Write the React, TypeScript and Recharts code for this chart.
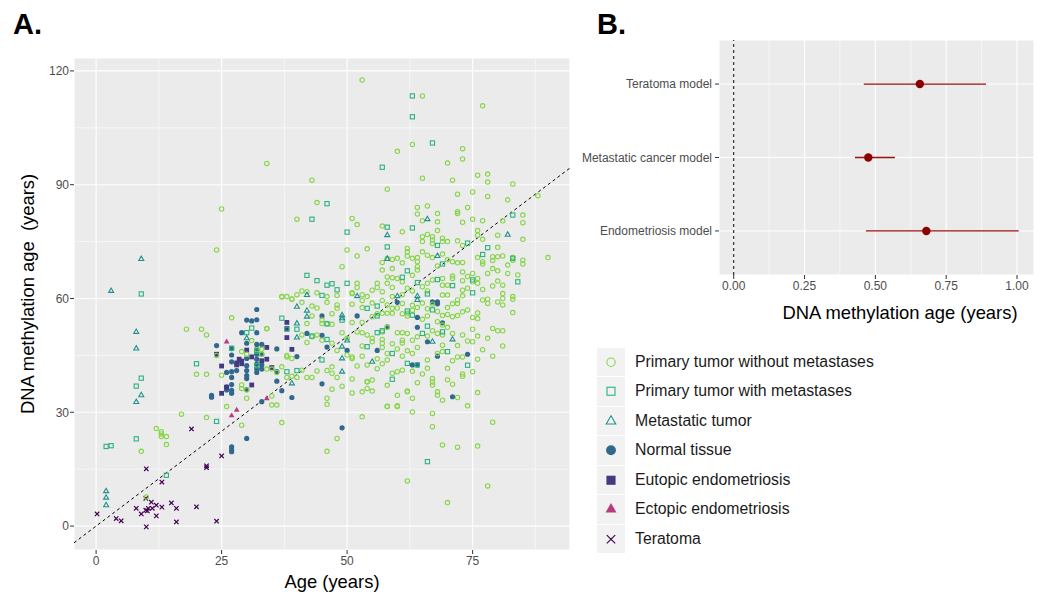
import React from "react";
import {
  ScatterChart,
  Scatter,
  XAxis,
  YAxis,
  CartesianGrid,
  ReferenceLine,
  ErrorBar,
} from "recharts";

const FONT = '"Liberation Sans", Arial, Helvetica, sans-serif';

// ---- panel A: [chronological age, DNA methylation age] ----
const primaryNoMet: [number, number][] = [
  [53, 117.6], [65, 113.4], [77, 110.8], [60, 98.8], [63, 100.6], [73, 99.5], [73, 96.8], [70, 95.7],
  [34, 95.6], [43, 91.2], [58, 88.8], [65, 91.7], [71, 91.2], [76, 92.5], [78, 92.8], [78, 90.7],
  [78, 86.9], [72, 87.5], [75, 88.1], [82, 86], [83, 90.2], [88, 87.1], [44, 85.3], [25, 83.6],
  [40, 80.9], [51, 81.1], [52, 79.5], [64, 84], [64, 82.3], [66, 84.4], [68, 82.4], [68, 80.2],
  [68, 77.9], [65, 80.5], [72, 82.9], [72, 82.4], [74, 84], [73, 80.1], [75, 80.9], [77, 80.5],
  [81, 80.5], [85, 82], [85, 80], [85, 75.6], [57, 79.1], [61, 77.6], [24, 72.8], [50, 72.8],
  [52, 71.2], [54, 73.1], [57, 69.5], [59, 70.3], [59, 67.9], [49, 68.4], [62, 73.2], [62, 72.3],
  [62, 71.2], [64, 70.8], [64, 69.7], [64, 68.4], [64, 67.5], [65, 76.3], [65, 75], [65, 72.3],
  [66, 76.9], [66, 71.4], [67, 76.3], [67, 75.4], [67, 74.5], [67, 70.8], [69, 75.9], [69, 75],
  [70, 75], [72, 75.2], [73, 74], [76, 77.9], [76, 76.7], [77, 75.6], [80, 76.7], [80, 73.5],
  [69, 71.7], [71, 69.7], [72, 69.4], [73, 69.5], [76, 70.8], [77, 69.7], [77, 69.1], [79, 71],
  [79, 70], [80, 71], [81, 71.2], [83, 70.8], [83, 70.1], [85, 70.1], [85, 69.1], [90, 70.8],
  [79, 67.9], [82, 68.8], [82, 66.6], [73, 67], [63, 70.6], [60, 70.6], [58, 70.6], [57, 67.5],
  [58, 65.7], [59, 65.5], [60, 65.3], [61, 64.4], [62, 62.7], [59, 62.9], [58, 64], [56, 64],
  [56, 62.9], [55, 62.2], [52, 64], [52, 62.9], [51, 61.5], [66, 64], [66, 62], [67, 64.9],
  [65, 63.1], [69, 65.3], [69, 63.5], [71, 65.9], [71, 65.3], [73, 64.7], [75, 66.6], [75, 64.4],
  [76, 65.3], [76, 64], [77, 62.4], [80, 64.6], [79, 63.3], [81, 63.5], [74, 62.7], [73, 62.2],
  [70, 63.5], [81, 61.3], [83, 60.5], [42, 61.8], [44, 61.5], [37, 60.5], [39, 59.8], [38, 60.5],
  [40, 61], [41, 62], [46, 60.5], [48, 60.8], [51, 61.3], [53, 61], [54, 60.5], [57, 61.8],
  [59, 60.5], [61, 61], [63, 62], [41, 59], [43, 58], [44, 57.5], [46, 59], [47, 56],
  [51, 58.5], [53, 59.5], [55, 58.8], [57, 59.5], [48, 58.3], [48, 57.4], [57, 56.1], [58, 56.1],
  [59, 56.1], [59, 57.4], [61, 58.7], [62, 56.1], [62, 55.4], [63, 56.9], [65, 54.5], [66, 55.4],
  [68, 53.9], [67, 58.5], [69, 60.9], [70, 60.9], [73, 60.7], [72, 59.6], [72, 58.7], [77, 59.6],
  [78, 59.8], [78, 58.7], [80, 59.1], [81, 60], [81, 58.3], [83, 59.8], [83, 56.3], [69, 55.5],
  [70, 55.8], [71, 55.2], [72, 55.5], [73, 56.5], [74, 57], [75, 55], [76, 54.7], [76, 56.2],
  [27, 54.9], [43, 55.4], [45, 54.3], [45, 53.4], [42, 53.4], [46, 53.4], [47, 53.2], [51, 53.7],
  [53, 53.7], [55, 55.2], [22, 50.4], [21, 51.9], [18, 51.9], [34, 52], [41, 50.4], [43, 49.9],
  [42, 48.4], [44, 50.4], [45, 49], [31, 48.9], [30, 45.3], [33, 45.3], [38, 45], [38, 44.6],
  [39, 44.2], [49, 51], [50, 49.5], [52, 51.2], [53, 51], [54, 50.4], [55, 49.5], [57, 51.2],
  [57, 49.2], [58, 52.4], [60, 51], [61, 51], [61, 49], [62, 50.8], [63, 49], [64, 49.9],
  [68, 50.8], [69, 53], [47, 48.2], [53, 47.5], [55, 48.6], [57, 48.2], [57, 47.1], [61, 48.3],
  [69, 50.4], [69, 47.7], [70, 52.4], [71, 50.8], [73, 50.4], [75, 51.9], [76, 50.1], [75, 48.6],
  [79, 52.1], [80, 51.5], [81, 51.5], [81, 47.5], [51, 44.6], [51, 44.2], [50, 45.1], [58, 45.5],
  [58, 43.8], [61, 44.8], [63, 45.5], [66, 43.8], [68, 45.5], [69, 46], [72, 44.6], [73, 44.6],
  [79, 44.8], [34, 41.4], [35, 41.4], [36, 40.5], [37, 42], [22, 40], [20, 40], [25, 39.8],
  [29, 37.2], [29, 36.3], [30, 35.9], [30, 33.7], [35, 34.3], [35, 31.9], [36, 31.9], [26, 31.5],
  [38, 39.2], [39, 39.5], [40, 39.2], [42, 39.2], [43, 39.2], [44, 40.9], [41, 41.1], [60, 40.7],
  [61, 41.1], [59, 40.3], [54, 38.1], [55, 38.5], [51, 38.8], [47, 42], [46, 41], [47, 40.3],
  [48, 39.2], [47, 36.1], [53, 35.4], [60, 34.5], [62, 35.6], [67, 38.9], [67, 38], [67, 37.2],
  [68, 35.4], [68, 34.5], [69, 33.2], [46, 33.7], [46, 32.1], [58, 31.5], [60, 31.5], [75, 40.7],
  [73, 40.1], [73, 39.5], [71, 37.4], [76, 35.2], [72, 33.9], [74, 31.7], [54, 36.3], [54, 38],
  [62, 35.4], [63, 33.7], [51, 35.1], [29, 46], [32, 46.5], [33, 46.6], [34, 52.1], [17, 29.5],
  [22, 28.6], [12, 25.7], [13, 24.9], [13, 23.6], [13, 24.3], [14, 23.6], [14, 21.5], [9, 19.7],
  [10, 7.7], [29, 26.6], [37, 27.3], [53, 28.8], [48, 23.1], [46, 19.7], [62, 11.9], [67, 26.2],
  [69, 21.4], [72, 20.8], [76, 21.1], [79, 27.4], [78, 10.6], [70, 6.2], [67, 29.7], [63, 30.1],
  [60, 31.7], [58, 31.6], [37, 60.4], [24, 45], [39, 59.9],
  [53, 57.6], [56, 56], [58, 58.3], [60, 57.5], [61, 56], [63, 58.2], [64, 57.6], [65, 58.8],
  [66, 57.3], [68, 56.6], [70, 57.6], [71, 58.6], [66, 50.1], [67, 51.5], [64, 47.1], [62, 46.2],
  [60, 46.7], [59, 48.1], [56, 44.1], [54, 42.5], [53, 44.8], [52, 42.2], [56, 41.5], [57, 42.8],
  [63, 40.8], [65, 40.1], [66, 41.6], [70, 41.6], [71, 43.6], [72, 47.6], [74, 48.8], [77, 46.5],
  [78, 49.5], [76, 44], [70, 38.6], [64, 37.8], [58, 37.1], [55, 35.6], [49, 36.9], [48, 46.3],
  [74, 65.8], [78, 66.6], [80, 67.3], [84, 66.2], [70, 70.2], [68, 68.6], [61, 69.4], [63, 66.1],
];

const primaryMet: [number, number][] = [
  [2, 21], [3, 21.2], [8, 23], [8, 36.9], [9, 39], [9, 61.2], [14, 13.4], [20, 42.8], [24, 27.6],
  [27, 46.9], [30, 51], [31, 52.2], [32, 46.1], [32, 42.3], [37, 54.8], [38, 51.9], [38, 40.7],
  [40, 51.9], [40, 41], [42, 66.1], [43, 80.9], [43, 50.1], [44, 64.7], [45, 60.8], [45, 43.8],
  [46, 85], [46, 63.5], [46, 53.3], [46, 49.2], [47, 63.9], [48, 62.3], [49, 54.3], [50, 77.5],
  [50, 64], [54, 57.4], [54, 47.3], [56, 58], [56, 55.4], [56, 51], [57, 94.6], [57, 51.5],
  [58, 78.8], [58, 73.6], [59, 45.5], [59, 38.7], [61, 65.6], [62, 67.3], [62, 56.7], [62, 42.9],
  [63, 113.4], [63, 107.9], [63, 78.6], [63, 55.6], [64, 64.2], [64, 42.5], [65, 50.8], [66, 61.2],
  [66, 52.7], [66, 17], [67, 101], [67, 57], [68, 74], [68, 65], [69, 69.1], [69, 51.2], [70, 46],
  [71, 63.4], [74, 74.6], [74, 42.4], [75, 64.9], [75, 61.5], [77, 71.6], [78, 73.4], [83, 82],
  [83, 70.6], [84, 64.4],
];

const metastatic: [number, number][] = [
  [2, 9.2], [2, 7.5], [2, 5.5], [3, 62], [8, 51.2], [8, 46.8], [8, 32.7], [9, 34.5], [9, 70.4],
  [30, 49.5], [39, 37.6], [40, 57.8], [40, 53.4], [40, 49.7], [42, 60.9], [42, 56.8], [42, 55.2],
  [49, 55.6], [49, 54.8], [49, 47.3], [49, 44.2], [49, 40.7], [50, 48.9], [52, 60.6], [55, 43.3],
  [58, 76.7], [58, 70.4], [60, 60.6], [64, 60.6], [64, 59.6], [66, 80.9], [67, 48.6], [68, 71.2],
  [71, 49.2], [82, 76.8],
];

const normalTissue: [number, number][] = [
  [24, 47.6], [26, 40.5], [26, 36.7], [26, 35.9], [27, 46.8], [27, 45.1], [27, 43.3], [27, 40.7],
  [27, 39.2], [27, 37.3], [27, 35.8], [27, 35], [27, 20.9], [27, 20.2], [27, 19.6], [23, 34.5],
  [23, 34], [29, 51], [30, 48.2], [30, 44.2], [30, 42.3], [30, 41], [30, 39.7], [30, 38.9],
  [30, 36], [30, 23.1], [30, 54.3], [31, 54.1], [32, 54.4], [32, 57.1], [32, 51], [32, 47.9],
  [32, 46.6], [32, 45.3], [32, 44], [32, 42.7], [32, 41.4], [32, 40.5], [33, 47.9], [33, 45.3],
  [33, 41.4], [33, 42.5], [33, 32.8], [36, 46.7], [36, 40.7], [36, 38.2], [39, 33.9], [40, 44.7],
  [28, 41], [37, 35.7], [42, 50.8], [45, 55.4], [45, 50.3], [45, 37.5], [46, 47.2], [49, 25.9],
  [50, 46.3], [52, 55.4], [56, 46.3], [58, 52.5], [60, 59], [64, 55], [64, 52.4], [67, 59.1],
  [68, 59.1], [68, 58.6], [69, 53.6], [66, 48.6], [68, 44.8], [63, 42.5], [64, 42.5], [74, 45.3],
  [71, 34.1],
];

const eutopic: [number, number][] = [
  [24, 45.3], [25, 42.2], [25, 35], [26, 36.6], [28, 43], [28.5, 44], [29, 43.5], [28, 42.5],
  [29, 42.8], [30, 46.4], [31, 44.6], [31, 37.2], [33, 43.6], [34, 44], [34, 47.1], [35, 41.8],
  [38, 53.7], [38, 52.1], [38, 49.7], [39, 46.6],
];

const ectopic: [number, number][] = [[26, 48.6], [27, 29.1], [28, 30.6], [34, 33.6]];

const teratoma: [number, number][] = [
  [0.2, 3.2], [4, 2], [5, 1.4], [8, 4.7], [9, 3.2], [10, 15.1], [9.9, 7.3], [9.9, 4.2], [10.2, 4],
  [10, -0.2], [10.4, 4.7], [11, 6.3], [11.2, 4.7], [12, 5.5], [12, 2.7], [13.1, 11.6], [13.1, 5],
  [15, 6.1], [16, 4.7], [16, 1.1], [19, 25.6], [20, 5.1], [22, 15.9], [22, 15.4], [24, 1.3],
  [25, 18.5],
];

const xTicksA = [0, 25, 50, 75];
const yTicksA = [0, 30, 60, 90, 120];
const xMinorA = [12.5, 37.5, 62.5, 87.5];
const yMinorA = [15, 45, 75, 105];

// ---- panel B ----
const models = ["Teratoma model", "Metastatic cancer model", "Endometriosis model"];
const estimates = [0.657, 0.475, 0.68];
const lower = [0.459, 0.428, 0.467];
const upper = [0.891, 0.569, 1.006];
const xTicksB = [0, 0.25, 0.5, 0.75, 1];
const xMinorB = [0.125, 0.375, 0.625, 0.875];

type Kind = "circleOpen" | "squareOpen" | "triOpen" | "circle" | "square" | "tri" | "cross";

function mark(kind: Kind, cx: number, cy: number, color: string, s = 1) {
  const sw = 1.1;
  switch (kind) {
    case "circleOpen":
      return <circle cx={cx} cy={cy} r={2.2 * s} fill="none" stroke={color} strokeWidth={sw} />;
    case "squareOpen": {
      const h = 2.1 * s;
      return <rect x={cx - h} y={cy - h} width={2 * h} height={2 * h} fill="none" stroke={color} strokeWidth={sw} />;
    }
    case "triOpen": {
      const r = 2.9 * s;
      return (
        <polygon
          points={`${cx},${cy - r} ${cx - r * 0.866},${cy + r * 0.5} ${cx + r * 0.866},${cy + r * 0.5}`}
          fill="none"
          stroke={color}
          strokeWidth={sw}
        />
      );
    }
    case "circle":
      return <circle cx={cx} cy={cy} r={2.6 * s} fill={color} />;
    case "square": {
      const h = 2.4 * s;
      return <rect x={cx - h} y={cy - h} width={2 * h} height={2 * h} fill={color} />;
    }
    case "tri": {
      const r = 3.3 * s;
      return (
        <polygon
          points={`${cx},${cy - r} ${cx - r * 0.866},${cy + r * 0.5} ${cx + r * 0.866},${cy + r * 0.5}`}
          fill={color}
        />
      );
    }
    default: {
      const h = 2.2 * s;
      return (
        <g stroke={color} strokeWidth={1.2}>
          <line x1={cx - h} y1={cy - h} x2={cx + h} y2={cy + h} />
          <line x1={cx - h} y1={cy + h} x2={cx + h} y2={cy - h} />
        </g>
      );
    }
  }
}

const groups: { name: string; color: string; kind: Kind; data: [number, number][] }[] = [
  { name: "Primary tumor without metastases", color: "#86D549", kind: "circleOpen", data: primaryNoMet },
  { name: "Primary tumor with metastases", color: "#2DB27D", kind: "squareOpen", data: primaryMet },
  { name: "Metastatic tumor", color: "#21908C", kind: "triOpen", data: metastatic },
  { name: "Normal tissue", color: "#31688E", kind: "circle", data: normalTissue },
  { name: "Eutopic endometriosis", color: "#443A83", kind: "square", data: eutopic },
  { name: "Ectopic endometriosis", color: "#BB3A7E", kind: "tri", data: ectopic },
  { name: "Teratoma", color: "#440154", kind: "cross", data: teratoma },
];

// drawing order: filled groups underneath, open markers on top
const drawOrder = [3, 4, 5, 6, 0, 1, 2];

const tickStyle = { fill: "#4D4D4D", fontSize: 12, fontFamily: FONT };

function PanelA() {
  return (
    <ScatterChart width={600} height={594} margin={{ top: 58, right: 30, bottom: 14, left: 34 }}>
      <CartesianGrid fill="#EBEBEB" stroke="#FFFFFF" strokeWidth={1.1} />
      {xMinorA.map((v) => (
        <ReferenceLine key={"xm" + v} x={v} stroke="#FFFFFF" strokeWidth={0.55} />
      ))}
      {yMinorA.map((v) => (
        <ReferenceLine key={"ym" + v} y={v} stroke="#FFFFFF" strokeWidth={0.55} />
      ))}
      <XAxis
        type="number"
        dataKey="x"
        domain={[-4.4, 94.4]}
        ticks={xTicksA}
        allowDataOverflow
        axisLine={false}
        tickLine={{ stroke: "#333333" }}
        tickSize={4}
        tickMargin={2}
        tick={tickStyle}
        height={30}
      />
      <YAxis
        type="number"
        dataKey="y"
        domain={[-6.3, 123.4]}
        ticks={yTicksA}
        allowDataOverflow
        axisLine={false}
        tickLine={{ stroke: "#333333" }}
        tickSize={4}
        tickMargin={1}
        tick={tickStyle}
        width={40}
      />
      {drawOrder.map((i) => {
        const g = groups[i];
        return (
          <Scatter
            key={g.name}
            name={g.name}
            data={g.data.map(([x, y]) => ({ x, y }))}
            isAnimationActive={false}
            shape={(p: any) => mark(g.kind, p.cx, p.cy, g.color)}
          />
        );
      })}
      <ReferenceLine
        segment={[
          { x: -4.4, y: -4.4 },
          { x: 94.4, y: 94.4 },
        ]}
        stroke="#000000"
        strokeWidth={1}
        strokeDasharray="3 3"
      />
    </ScatterChart>
  );
}

function ModelTick(p: any) {
  return (
    <text x={p.x} y={p.y} dy="0.355em" textAnchor="end" fill="#4D4D4D" fontSize={12} fontFamily={FONT}>
      {models[models.length - p.payload.value]}
    </text>
  );
}

function PanelB() {
  const rows = models.map((m, i) => ({
    model: m,
    pos: models.length - i,
    est: estimates[i],
    err: [estimates[i] - lower[i], upper[i] - estimates[i]],
  }));
  return (
    <ScatterChart width={477} height={300} margin={{ top: 40, right: 3, bottom: 0, left: 20 }}>
      <CartesianGrid fill="#EBEBEB" stroke="#FFFFFF" strokeWidth={1.1} />
      {xMinorB.map((v) => (
        <ReferenceLine key={"bm" + v} x={v} stroke="#FFFFFF" strokeWidth={0.55} />
      ))}
      <XAxis
        type="number"
        dataKey="est"
        domain={[-0.052, 1.06]}
        ticks={xTicksB}
        allowDataOverflow
        axisLine={false}
        tickLine={{ stroke: "#333333" }}
        tickSize={4}
        tickMargin={2}
        tick={tickStyle}
        tickFormatter={(v: number) => v.toFixed(2)}
        height={25}
      />
      <YAxis
        type="number"
        dataKey="pos"
        domain={[0.4, 3.6]}
        ticks={[1, 2, 3]}
        axisLine={false}
        tickLine={{ stroke: "#333333" }}
        tickSize={4}
        tickMargin={3}
        tick={<ModelTick />}
        width={139}
      />
      <ReferenceLine x={0} stroke="#000000" strokeWidth={1} strokeDasharray="3 3" />
      <Scatter
        data={rows}
        isAnimationActive={false}
        fill="#8B0000"
        shape={(p: any) => <circle cx={p.cx} cy={p.cy} r={4.2} fill="#8B0000" />}
      >
        <ErrorBar dataKey="err" direction="x" width={0} stroke="#9B0F0F" strokeWidth={1.3} />
      </Scatter>
    </ScatterChart>
  );
}

function LegendBox() {
  return (
    <div style={{ position: "absolute", left: 597, top: 347, fontFamily: FONT }}>
      {groups.map((g) => (
        <div key={g.name} style={{ display: "flex", alignItems: "center", height: 29.5 }}>
          <svg width={28} height={28.5} style={{ background: "#F2F2F2", display: "block" }}>
            {mark(g.kind, 14, 14.25, g.color, 1.9)}
          </svg>
          <span style={{ marginLeft: 10, fontSize: 15.8, color: "#1A1A1A", whiteSpace: "nowrap" }}>{g.name}</span>
        </div>
      ))}
    </div>
  );
}

export default function App() {
  const title = { position: "absolute" as const, fontFamily: FONT, color: "#000", whiteSpace: "pre" as const };
  return (
    <div
      style={{
        position: "absolute",
        left: 0,
        top: 0,
        width: 1037,
        height: 594,
        background: "#FFFFFF",
        overflow: "hidden",
        fontFamily: FONT,
      }}
    >
      <div style={{ position: "absolute", left: 0, top: 0 }}>
        <PanelA />
      </div>
      <div style={{ position: "absolute", left: 560, top: 0 }}>
        <PanelB />
      </div>
      <LegendBox />
      <div style={{ ...title, left: 13, top: 8, fontSize: 29, fontWeight: 700 }}>A.</div>
      <div style={{ ...title, left: 597, top: 8, fontSize: 29, fontWeight: 700 }}>B.</div>
      <div style={{ ...title, left: 332, top: 582, fontSize: 18.4, transform: "translate(-50%, -50%)" }}>
        Age (years)
      </div>
      <div
        style={{
          ...title,
          left: 27.5,
          top: 294,
          fontSize: 18.4,
          transform: "translate(-50%, -50%) rotate(-90deg)",
        }}
      >
        DNA methylation age  (years)
      </div>
      <div style={{ ...title, left: 900, top: 313, fontSize: 18.4, transform: "translate(-50%, -50%)" }}>
        DNA methylation age (years)
      </div>
    </div>
  );
}
